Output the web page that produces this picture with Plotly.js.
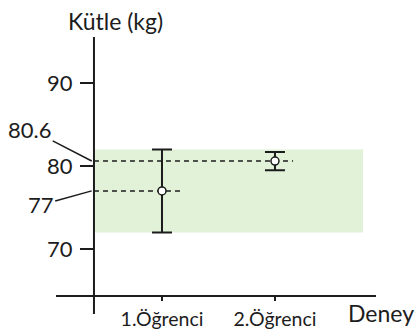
<!DOCTYPE html>
<html>
<head>
<meta charset="utf-8">
<script src="https://cdn.plot.ly/plotly-3.0.1.min.js"></script>
<style>html,body{margin:0;padding:0;background:#fff;}#chart{width:417px;height:333px;}</style>
</head>
<body>
<div id="chart"></div>
<script>
// Data
const categories = ['1.Öğrenci', '2.Öğrenci'];
const means = [77, 80.6];
const errors = [5, 1.1];
const yTicks = [70, 80, 90];
const meanLabels = ['77', '80.6'];
const yTitle = 'Kütle (kg)';
const xTitle = 'Deney';

// Style constants (positions in pixels / category offsets)
const ink = '#1c1c1c';
const font = 'Lato, "Open Sans", sans-serif';
const axisX = -0.602;   // y-axis position in category units
const dashOver = 0.16;  // how far dashed lines extend past point

const shapes = [];
// green band spanning student 1's range
shapes.push({type:'rect', xref:'x', yref:'y', x0: axisX + 0.01, x1: 1.779,
  y0: means[0] - errors[0], y1: means[0] + errors[0],
  fillcolor:'#e1f2d8', line:{width:0}, layer:'below'});
// dashed reference lines
means.forEach((m, i) => {
  shapes.push({type:'line', xref:'x', yref:'y', x0: axisX, x1: i + dashOver, y0: m, y1: m,
    line:{color: ink, width:1.5, dash:'5px,4px'}, layer:'below'});
});
// y-axis line (extends below x-axis)
shapes.push({type:'line', xref:'x', yref:'paper', x0: axisX, x1: axisX, y0: -0.074, y1: 1,
  line:{color: ink, width:2}});

const annotations = [
  {text: yTitle, xref:'paper', yref:'paper', x: 0.187, y: 1.0, yshift: 16, showarrow:false,
   xanchor:'center', yanchor:'middle', font:{family:font, size:23, color:ink}},
  {text: xTitle, xref:'paper', yref:'paper', x: 1.0, y: 0, yshift: -18, xshift: 5, showarrow:false,
   xanchor:'center', yanchor:'middle', font:{family:font, size:23, color:ink}},
  {text: meanLabels[1], xref:'x', yref:'y', x: axisX - 0.02, y: means[1], ax: -62, ay: -32,
   showarrow:true, arrowhead:0, arrowwidth:1.5, arrowcolor:ink, standoff:0,
   font:{family:font, size:22, color:ink}},
  {text: meanLabels[0], xref:'x', yref:'y', x: axisX - 0.02, y: means[0], ax: -51, ay: 14,
   showarrow:true, arrowhead:0, arrowwidth:1.5, arrowcolor:ink, standoff:0,
   font:{family:font, size:22, color:ink}}
];

const trace = {
  type:'scatter', mode:'markers', x: categories, y: means,
  error_y:{type:'data', array: errors, visible:true, color: ink, thickness:2, width:10},
  marker:{size:8, color:'#ffffff', line:{color: ink, width:1.5}},
  cliponaxis:false, hoverinfo:'skip'
};

const layout = {
  width:417, height:333,
  margin:{l:56, r:41, t:37, b:38},
  paper_bgcolor:'#fff', plot_bgcolor:'rgba(0,0,0,0)',
  showlegend:false,
  font:{family:font, color:ink},
  xaxis:{type:'category', range:[-0.938, 1.894], showgrid:false, zeroline:false,
    showline:true, linecolor:ink, linewidth:2, ticks:'outside', ticklen:4, tickwidth:1.5, tickcolor:ink,
    tickfont:{family:font, size:19.5, color:ink}, ticklabelstandoff:2, fixedrange:true},
  yaxis:{range:[64.46, 95.54], anchor:'free', position:0.11875, showgrid:false, zeroline:false,
    showline:false, ticks:'outside', ticklen:14, tickwidth:2, tickcolor:ink,
    tickvals: yTicks, ticktext: yTicks.map(String), ticklabelstandoff:3,
    tickfont:{family:font, size:22, color:ink}, fixedrange:true},
  shapes: shapes,
  annotations: annotations
};

Plotly.newPlot('chart', [trace], layout, {staticPlot:true, displayModeBar:false});
</script>
</body>
</html>
